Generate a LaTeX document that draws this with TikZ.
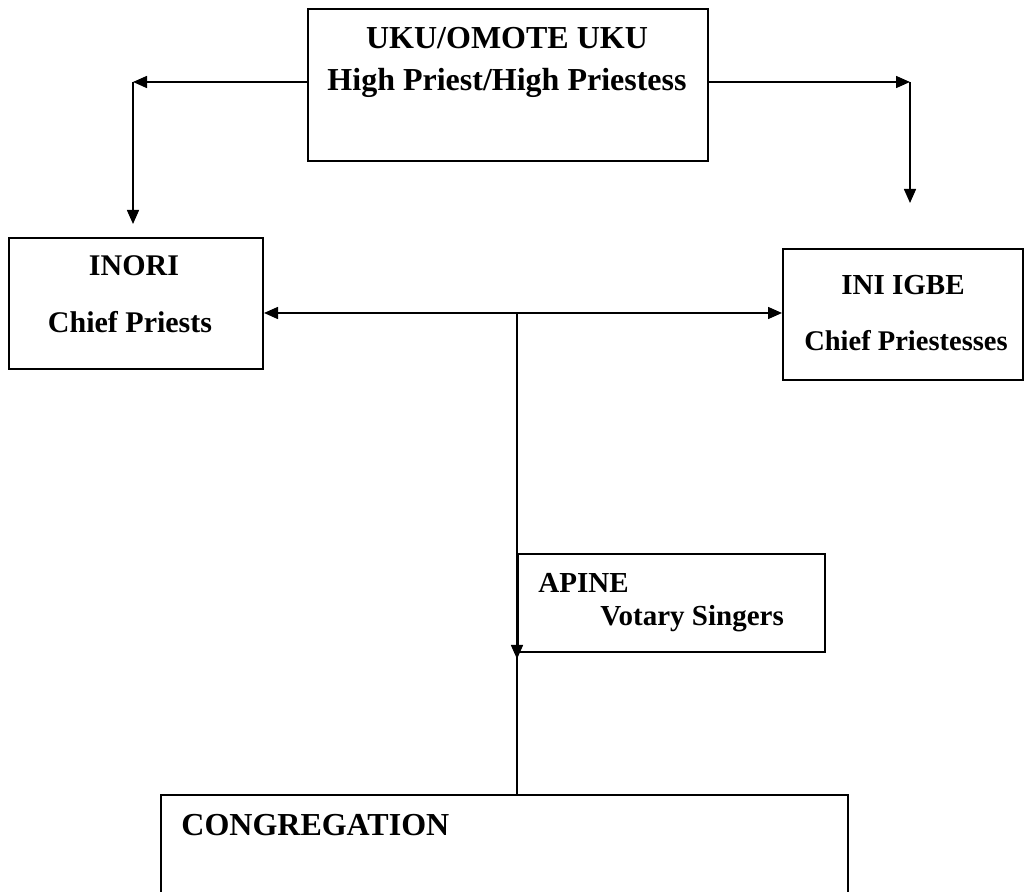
\documentclass[tikz,border=0pt]{standalone}
\usepackage{fontspec}
\setmainfont{Liberation Serif}
\usetikzlibrary{arrows.meta}

\begin{document}
\begin{tikzpicture}[x=0.5pt, y=-0.5pt,
        box/.style={draw, line width=1pt, anchor=north west, inner sep=0pt},
        txt/.style={anchor=base, inner sep=0pt, font=\bfseries},
        arr/.style={-{Triangle[length=7pt, width=6pt]}, line width=0.75pt},
        dblarr/.style={{Triangle[length=7pt, width=6pt]}-{Triangle[length=7pt, width=6pt]}, line width=0.75pt}]
        \useasboundingbox (0,0) rectangle (1024,892);

        % Boxes
        \node[box, minimum width=200pt, minimum height=76pt] (uku) at (307,8) {};
        \node[box, minimum width=127pt, minimum height=65.5pt] (inori) at (8,237) {};
        \node[box, minimum width=120pt, minimum height=65.5pt] (inigbe) at (782,248) {};
        \node[box, minimum width=153.5pt, minimum height=49pt] (apine) at (517,553) {};
        \node[box, minimum width=343.5pt, minimum height=60pt] (cong) at (160,794) {};

        % Texts
        \node[txt, font=\bfseries\fontsize{16}{19}\selectfont] (ukuA) at (507,49) {UKU/OMOTE UKU};
        \node[txt, font=\bfseries\fontsize{16}{19}\selectfont] (ukuB) at (507,91) {High Priest/High Priestess};
        \node[txt, font=\bfseries\fontsize{15}{18}\selectfont] (inoriA) at (134,276) {INORI};
        \node[txt, font=\bfseries\fontsize{15}{18}\selectfont] (inoriB) at (130,333) {Chief Priests};
        \node[txt, font=\bfseries\fontsize{14.5}{17}\selectfont] (inigbeA) at (903,295) {INI IGBE};
        \node[txt, font=\bfseries\fontsize{14.25}{17}\selectfont] (inigbeB) at (906,351) {Chief Priestesses};
        \node[txt, anchor=base west, font=\bfseries\fontsize{14.5}{17}\selectfont] (apineA) at (538,593) {APINE};
        \node[txt, anchor=base west, font=\bfseries\fontsize{14.5}{17}\selectfont] (apineB) at (600,626) {Votary Singers};
        \node[txt, anchor=base west, font=\bfseries\fontsize{16}{19}\selectfont] (congA) at (181,836) {CONGREGATION};

        % Corners and free ends
        \coordinate (lcorner) at (133,82);
        \coordinate (ldown) at (133,224);
        \coordinate (rcorner) at (910,82);
        \coordinate (rdown) at (910,203);
        \coordinate (hub) at (517,313);

        % Arrows
        \draw[arr] (uku.west |- lcorner) -- (lcorner);
        \draw[arr] (lcorner) -- (ldown);
        \draw[arr] (uku.east |- rcorner) -- (rcorner);
        \draw[arr] (rcorner) -- (rdown);
        \draw[dblarr] (inori.east |- hub) -- (inigbe.west |- hub);
        \draw[arr] (hub) -- ([yshift=-3pt]apine.south west);
        \draw[line width=0.75pt] (apine.south west) -- (apine.south west |- cong.north);
    \end{tikzpicture}
\end{document}
